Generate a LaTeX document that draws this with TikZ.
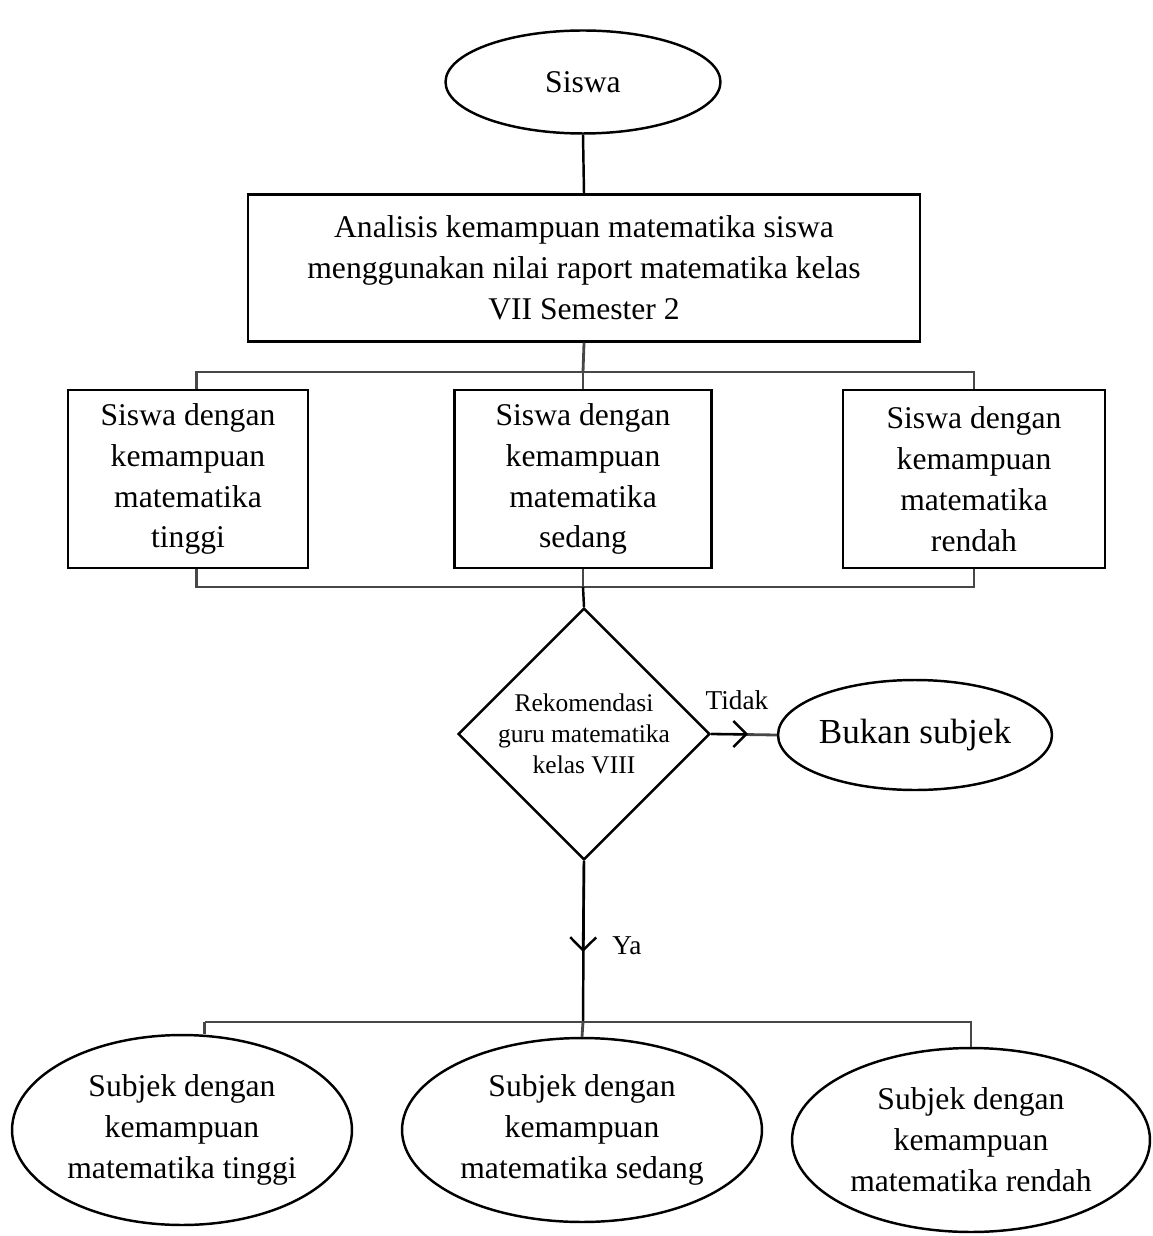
\documentclass[tikz,border=0pt]{standalone}
\usepackage{fontspec}
\setmainfont{Liberation Serif}
\usetikzlibrary{arrows.meta}
\usetikzlibrary{calc}
\usetikzlibrary{positioning}
\usetikzlibrary{shapes.geometric}
\tikzset{
  every picture/.style={font={\fontsize{18}{23.3}\selectfont}, >={Straight Barb[length=2.6mm, width=5.2mm]}},
  every node/.style={align=center}}

\begin{document}
\begin{tikzpicture}[x=0.02cm, y=-0.02cm, line width=1.4pt,
    term/.style={draw, ellipse, inner sep=0pt},
    box/.style={draw, rectangle, inner sep=0pt, minimum height=3.56cm},
    decide/.style={draw, diamond, aspect=1, inner sep=0pt,
      minimum width=5.04cm, minimum height=4.96cm,
      font={\fontsize{14.5}{17.6}\selectfont}},
    conn/.style={draw=black!72, line width=1.6pt},
    lbl/.style={font={\fontsize{15.5}{18}\selectfont}}]

    \useasboundingbox (0,0) rectangle (1152,1236);

    \node[term, minimum width=5.5cm, minimum height=2.06cm] (siswa) at (583,82) {Siswa};
    \node[draw, rectangle, minimum width=13.44cm, minimum height=2.94cm] (analisis) at (584,268)
      {Analisis kemampuan matematika siswa\\ menggunakan nilai raport matematika kelas\\ VII Semester 2};

    \begin{scope}
      \node[box, minimum width=4.8cm] (tinggi) at (188,479) {Siswa dengan\\ kemampuan\\ matematika\\ tinggi};
      \node[box, minimum width=5.14cm] (sedang) at (583,479) {Siswa dengan\\ kemampuan\\ matematika\\ sedang};
      \node[box, minimum width=5.24cm] (rendah) at (974,479) {Siswa dengan\\ kemampuan\\ matematika\\ rendah};
    \end{scope}

    \node[decide] (rekom) at (584,734) {Rekomendasi\\ guru matematika\\ kelas VIII};
    \node[term, minimum width=5.48cm, minimum height=2.2cm, font={\fontsize{20}{24}\selectfont}] (bukan) at (915,735) {Bukan subjek};

    \begin{scope}
      \node[term, minimum width=6.8cm, minimum height=3.8cm] (subT) at (182,1130) {Subjek dengan\\ kemampuan\\ matematika tinggi};
      \node[term, minimum width=7.2cm, minimum height=3.68cm] (subS) at (582,1130) {Subjek dengan\\ kemampuan\\ matematika sedang};
      \node[term, minimum width=7.16cm, minimum height=3.68cm] (subR) at (971,1140) {Subjek dengan\\ kemampuan\\ matematika rendah};
    \end{scope}

    \coordinate (topbar) at (583,372);
    \coordinate (midbar) at (583,587);
    \coordinate (lowbar) at (583,1022);
    \coordinate (tidaktip) at (748,734);
    \coordinate (yatip) at (583,952);

    \node[lbl] (tidak) at (737,700) {Tidak};
    \node[lbl] (ya) at (627,946) {Ya};

    % siswa -> analisis -> three groups
    \draw (siswa.south) -- (analisis.north);
    \draw[conn] (analisis.south) -- (topbar);
    \draw[conn] ([xshift=5]tinggi.north) -- ([xshift=5]tinggi.north |- topbar) -- (rendah.north |- topbar) -- (rendah.north);
    \draw[conn] (topbar) -- (sedang.north);

    % groups -> rekomendasi
    \draw[conn] ([xshift=5]tinggi.south) -- ([xshift=5]tinggi.south |- midbar) -- (rendah.south |- midbar) -- (rendah.south);
    \draw[conn] (sedang.south) -- (midbar);
    \draw (midbar) -- (rekom.north);

    % tidak
    \draw[conn] (rekom.east) -- (bukan.west);
    \draw[->] (rekom.east) -- (tidaktip);

    % ya
    \draw (rekom.south) -- (lowbar);
    \draw[->] (rekom.south) -- (yatip);
    \draw[conn] ([xshift=13]subT.north |- lowbar) -- ([xshift=13]subT.north);
    \draw[conn] ([xshift=13]subT.north |- lowbar) -- (subR.north |- lowbar) -- (subR.north);
    \draw[conn] (lowbar) -- (subS.north);
  \end{tikzpicture}
\end{document}
